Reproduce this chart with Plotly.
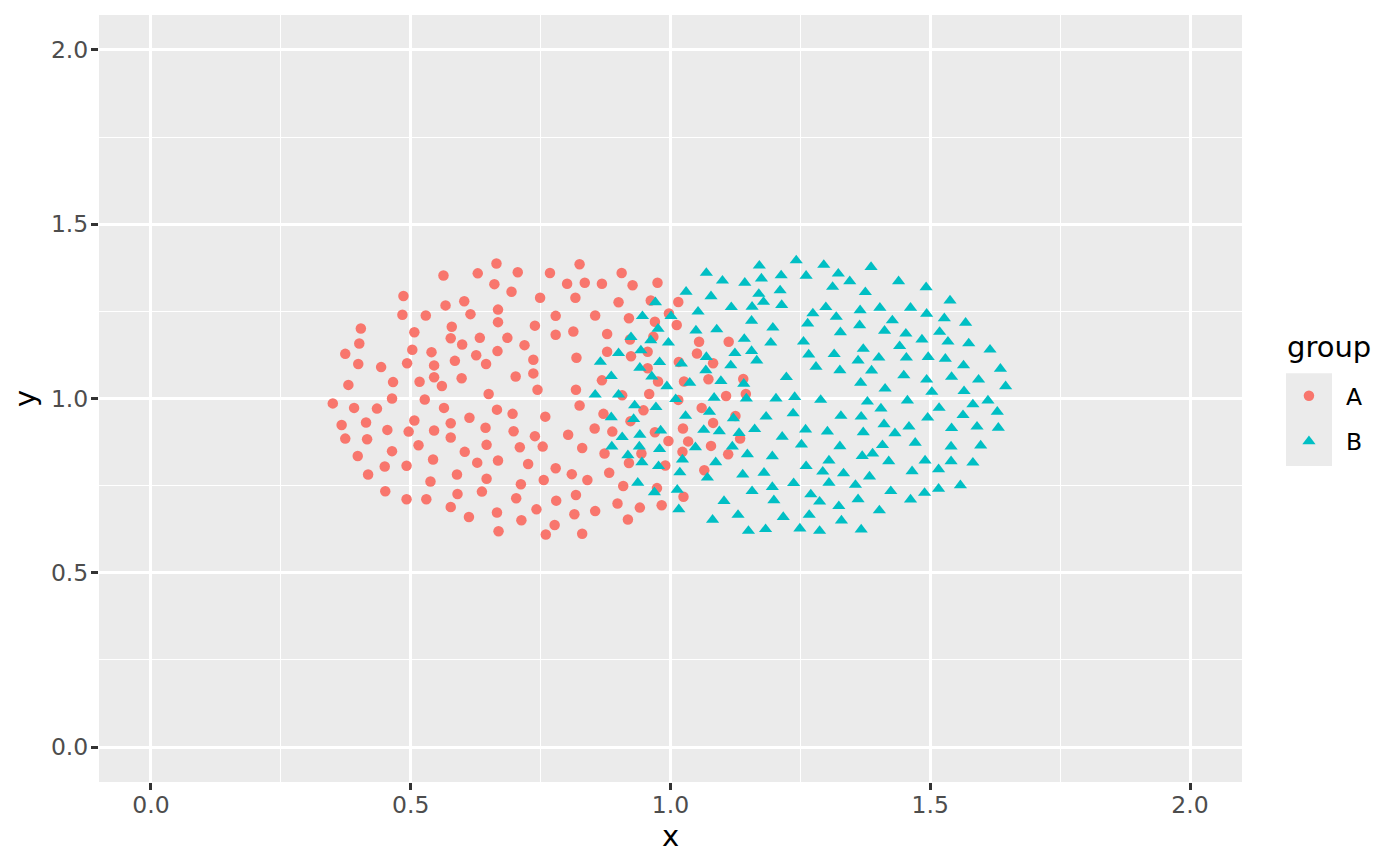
"""Two overlapping point clouds (groups A and B), ggplot2 grey-theme look."""

import plotly.graph_objects as go

# group A (red circles)
a_x = [0.563, 0.629, 0.665, 0.661, 0.486, 0.567, 0.603, 0.484, 0.529, 0.615,
       0.668, 0.668, 0.404, 0.579, 0.507, 0.577, 0.633, 0.401, 0.599, 0.374,
       0.503, 0.540, 0.626, 0.667, 0.399, 0.443, 0.493, 0.545, 0.585, 0.645,
       0.380, 0.466, 0.517, 0.545, 0.560, 0.598, 0.650, 0.464, 0.527, 0.350,
       0.391, 0.435, 0.564, 0.666, 0.367, 0.414, 0.455, 0.496, 0.507, 0.545,
       0.577, 0.613, 0.644, 0.374, 0.416, 0.515, 0.577, 0.646, 0.398, 0.464,
       0.604, 0.543, 0.628, 0.668, 0.450, 0.492, 0.418, 0.589, 0.646, 0.538,
       0.451, 0.590, 0.637, 0.492, 0.530, 0.577, 0.612, 0.666, 0.669, 0.706,
       0.768, 0.825, 0.906, 0.694, 0.749, 0.801, 0.835, 0.868, 0.927, 0.975,
       0.817, 0.900, 0.962, 0.779, 0.855, 0.920, 0.997, 0.970, 1.015, 0.739,
       0.686, 0.779, 0.813, 0.878, 0.922, 0.967, 0.719, 0.878, 0.924, 0.956,
       0.736, 0.819, 0.956, 0.702, 0.736, 0.868, 0.976, 0.744, 0.818, 0.959,
       0.907, 0.696, 0.759, 0.825, 0.871, 0.923, 0.948, 0.698, 0.739, 0.803,
       0.854, 0.888, 0.970, 0.996, 0.710, 0.754, 0.830, 0.873, 0.944, 0.726,
       0.779, 0.810, 0.882, 0.920, 0.990, 0.712, 0.756, 0.840, 0.909, 0.974,
       0.703, 0.780, 0.818, 0.898, 0.941, 0.983, 0.742, 0.815, 0.855, 0.713,
       0.918, 0.777, 0.760, 0.830, 1.012, 1.055, 1.112, 1.051, 1.016, 1.082,
       1.026, 1.073, 1.140, 1.107, 1.145, 1.015, 1.060, 1.082, 1.125, 1.024,
       1.034, 1.078, 1.134, 1.023, 1.111, 1.065, 1.025]
a_y = [1.353, 1.359, 1.387, 1.328, 1.294, 1.267, 1.279, 1.240, 1.238, 1.242,
       1.255, 1.219, 1.201, 1.206, 1.190, 1.173, 1.174, 1.158, 1.155, 1.128,
       1.140, 1.133, 1.124, 1.136, 1.099, 1.090, 1.101, 1.095, 1.108, 1.099,
       1.039, 1.047, 1.048, 1.061, 1.036, 1.058, 1.013, 1.000, 0.997, 0.986,
       0.973, 0.971, 0.973, 0.968, 0.924, 0.931, 0.910, 0.905, 0.937, 0.908,
       0.929, 0.945, 0.916, 0.885, 0.883, 0.866, 0.888, 0.867, 0.835, 0.849,
       0.847, 0.825, 0.816, 0.822, 0.805, 0.807, 0.782, 0.782, 0.770, 0.762,
       0.734, 0.726, 0.733, 0.711, 0.711, 0.689, 0.660, 0.673, 0.619, 1.362,
       1.360, 1.385, 1.360, 1.306, 1.289, 1.329, 1.332, 1.329, 1.325, 1.332,
       1.289, 1.276, 1.281, 1.237, 1.238, 1.230, 1.244, 1.220, 1.277, 1.209,
       1.174, 1.183, 1.192, 1.185, 1.169, 1.177, 1.153, 1.134, 1.121, 1.134,
       1.111, 1.117, 1.087, 1.063, 1.072, 1.052, 1.049, 1.025, 1.025, 1.013,
       1.009, 0.956, 0.948, 0.980, 0.956, 0.935, 0.966, 0.906, 0.892, 0.896,
       0.914, 0.905, 0.903, 0.878, 0.860, 0.862, 0.858, 0.842, 0.842, 0.812,
       0.800, 0.783, 0.787, 0.815, 0.808, 0.754, 0.766, 0.766, 0.749, 0.743,
       0.714, 0.707, 0.723, 0.699, 0.687, 0.694, 0.682, 0.668, 0.677, 0.651,
       0.653, 0.637, 0.610, 0.612, 1.211, 1.163, 1.163, 1.129, 1.105, 1.101,
       1.049, 1.055, 1.056, 1.007, 1.013, 0.996, 0.973, 0.930, 0.950, 0.914,
       0.877, 0.864, 0.885, 0.847, 0.840, 0.794, 0.718]

# group B (teal triangles)
b_x = [0.971, 0.946, 1.001, 0.976, 0.924, 0.962, 0.996, 0.943, 0.900, 0.865,
       0.979, 0.941, 0.964, 0.886, 0.993, 0.855, 0.900, 0.931, 0.972, 0.886,
       0.929, 0.981, 0.907, 0.941, 0.887, 0.940, 0.979, 0.918, 0.945, 0.977,
       0.937, 0.969, 1.242, 1.171, 1.295, 1.069, 1.100, 1.143, 1.175, 1.213,
       1.261, 1.323, 1.312, 1.030, 1.078, 1.170, 1.211, 1.179, 1.117, 1.157,
       1.214, 1.299, 1.274, 1.319, 1.053, 1.156, 1.264, 1.197, 1.049, 1.089,
       1.327, 1.142, 1.193, 1.256, 1.124, 1.156, 1.266, 1.315, 1.069, 1.166,
       1.021, 1.116, 1.280, 1.326, 1.068, 1.223, 1.097, 1.037, 1.141, 1.010,
       1.084, 1.146, 1.203, 1.239, 1.289, 1.029, 1.075, 1.121, 1.184, 1.236,
       1.328, 1.064, 1.094, 1.132, 1.162, 1.215, 1.260, 1.302, 1.048, 1.119,
       1.252, 1.326, 1.148, 1.196, 1.305, 1.023, 1.087, 1.261, 1.018, 1.071,
       1.139, 1.180, 1.293, 1.333, 1.237, 1.305, 1.013, 1.157, 1.196, 1.270,
       1.103, 1.199, 1.287, 1.324, 1.016, 1.130, 1.217, 1.267, 1.081, 1.329,
       1.150, 1.183, 1.249, 1.287, 1.386, 1.345, 1.439, 1.492, 1.375, 1.538,
       1.365, 1.403, 1.462, 1.493, 1.527, 1.427, 1.568, 1.364, 1.412, 1.453,
       1.518, 1.484, 1.534, 1.574, 1.441, 1.371, 1.615, 1.361, 1.401, 1.454,
       1.496, 1.529, 1.564, 1.635, 1.387, 1.449, 1.541, 1.493, 1.593, 1.366,
       1.413, 1.503, 1.565, 1.645, 1.379, 1.456, 1.611, 1.582, 1.405, 1.517,
       1.629, 1.367, 1.563, 1.495, 1.411, 1.459, 1.541, 1.590, 1.631, 1.371,
       1.432, 1.471, 1.408, 1.540, 1.597, 1.369, 1.389, 1.420, 1.490, 1.540,
       1.582, 1.383, 1.465, 1.516, 1.356, 1.424, 1.489, 1.516, 1.558, 1.361,
       1.462, 1.402, 1.367]
b_y = [1.276, 1.236, 1.236, 1.200, 1.176, 1.167, 1.160, 1.138, 1.130, 1.105,
       1.104, 1.088, 1.063, 1.064, 1.035, 1.011, 1.011, 0.980, 0.975, 0.946,
       0.941, 0.908, 0.889, 0.896, 0.862, 0.862, 0.855, 0.837, 0.817, 0.806,
       0.758, 0.731, 1.396, 1.381, 1.383, 1.360, 1.338, 1.332, 1.344, 1.353,
       1.352, 1.358, 1.320, 1.306, 1.293, 1.300, 1.310, 1.277, 1.262, 1.263,
       1.268, 1.262, 1.244, 1.234, 1.249, 1.223, 1.215, 1.203, 1.195, 1.198,
       1.190, 1.171, 1.160, 1.163, 1.130, 1.136, 1.126, 1.127, 1.119, 1.109,
       1.100, 1.095, 1.091, 1.081, 1.081, 1.061, 1.050, 1.045, 1.042, 0.998,
       1.002, 1.000, 1.000, 1.004, 0.996, 0.950, 0.962, 0.943, 0.948, 0.957,
       0.950, 0.910, 0.906, 0.901, 0.912, 0.890, 0.911, 0.905, 0.860, 0.862,
       0.868, 0.863, 0.840, 0.834, 0.822, 0.825, 0.817, 0.806, 0.788, 0.773,
       0.782, 0.787, 0.790, 0.785, 0.757, 0.758, 0.738, 0.734, 0.746, 0.725,
       0.706, 0.708, 0.704, 0.691, 0.682, 0.666, 0.660, 0.666, 0.652, 0.650,
       0.620, 0.625, 0.627, 0.620, 1.377, 1.336, 1.336, 1.319, 1.305, 1.281,
       1.253, 1.260, 1.260, 1.243, 1.230, 1.224, 1.217, 1.210, 1.194, 1.186,
       1.191, 1.169, 1.163, 1.158, 1.150, 1.142, 1.140, 1.109, 1.117, 1.117,
       1.119, 1.114, 1.095, 1.085, 1.080, 1.066, 1.062, 1.054, 1.054, 1.045,
       1.028, 1.019, 1.021, 1.035, 0.991, 0.994, 0.994, 0.983, 0.971, 0.973,
       0.962, 0.948, 0.952, 0.945, 0.926, 0.919, 0.915, 0.919, 0.916, 0.903,
       0.900, 0.873, 0.866, 0.862, 0.865, 0.835, 0.842, 0.820, 0.822, 0.820,
       0.816, 0.776, 0.791, 0.797, 0.752, 0.734, 0.729, 0.741, 0.751, 0.711,
       0.710, 0.679, 0.624]

groups = ["A", "B"]
ticks = [0.0, 0.5, 1.0, 1.5, 2.0]
tick_text = ["0.0", "0.5", "1.0", "1.5", "2.0"]

FONT = "DejaVu Sans"
RED = "#F8766D"
TEAL = "#00BFC4"

fig = go.Figure()
fig.add_trace(go.Scatter(
    x=a_x, y=a_y, mode="markers", name=groups[0], legendgroup="a",
    marker=dict(symbol="circle", size=10.5, color=RED, line=dict(width=0)),
))
fig.add_trace(go.Scatter(
    x=b_x, y=b_y, mode="markers", name=groups[1], legendgroup="b",
    marker=dict(symbol="triangle-up", size=11.5, color=TEAL, line=dict(width=0)),
))

axis_common = dict(
    range=[-0.1, 2.1], tickvals=ticks, ticktext=tick_text,
    showgrid=True, gridcolor="white", gridwidth=2.8, zeroline=False,
    ticks="outside", ticklen=7, tickwidth=2.8, tickcolor="#333333",
    tickfont=dict(family=FONT, size=23.5, color="#4D4D4D"),
    minor=dict(dtick=0.25, showgrid=True, gridcolor="white", gridwidth=1.4),
    showline=False,
)
fig.update_xaxes(**axis_common, ticklabelstandoff=-5,
                 title=dict(text="x", font=dict(family=FONT, size=29, color="black"), standoff=6))
fig.update_yaxes(**axis_common, ticklabelstandoff=-2,
                 title=dict(text="y", font=dict(family=FONT, size=29, color="black"), standoff=10))

# grey key background behind the legend symbols
fig.add_shape(type="rect", xref="paper", yref="paper",
              x0=1.0385, x1=1.0787, y0=0.412, y1=0.533,
              fillcolor="#EBEBEB", line=dict(width=0), layer="below")

# legend title drawn as its own text so the gap to the keys can match
fig.add_annotation(text="group", xref="paper", yref="paper",
                   x=1.0375, y=0.5675, xanchor="left", yanchor="middle",
                   showarrow=False, font=dict(family=FONT, size=29, color="black"))

# page body adds an 8px offset, so margins are trimmed by 8
fig.update_layout(
    width=1400, height=866,
    plot_bgcolor="#EBEBEB", paper_bgcolor="white",
    margin=dict(l=91, r=166, t=7, b=92),
    font=dict(family=FONT),
    legend=dict(
        font=dict(family=FONT, size=23.5, color="black"),
        x=1.0262, xanchor="left", y=0.532, yanchor="top",
        itemwidth=64, bgcolor="rgba(0,0,0,0)", tracegroupgap=12,
    ),
)

fig.write_html("out.html")
